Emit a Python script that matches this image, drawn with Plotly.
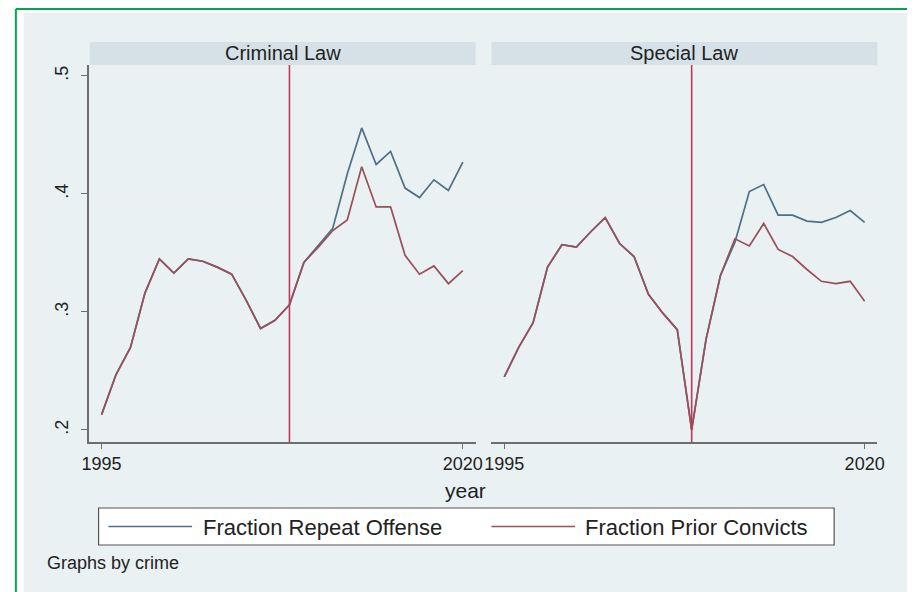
import plotly.graph_objects as go

# Yearly series by crime type
years = list(range(1995, 2021))

criminal_repeat = [0.213, 0.247, 0.270, 0.316, 0.345, 0.333, 0.345, 0.343, 0.338, 0.332,
                   0.310, 0.286, 0.293, 0.306, 0.342, 0.357, 0.371, 0.417, 0.456, 0.425,
                   0.436, 0.405, 0.397, 0.412, 0.403, 0.427]
criminal_prior = [0.213, 0.247, 0.270, 0.316, 0.345, 0.333, 0.345, 0.343, 0.338, 0.332,
                  0.310, 0.286, 0.293, 0.306, 0.342, 0.355, 0.369, 0.378, 0.423, 0.389,
                  0.389, 0.348, 0.332, 0.339, 0.324, 0.335]

special_repeat = [0.245, 0.270, 0.291, 0.338, 0.357, 0.355, 0.368, 0.380, 0.358, 0.347,
                  0.315, 0.299, 0.285, 0.200, 0.277, 0.331, 0.359, 0.402, 0.408, 0.382,
                  0.382, 0.377, 0.376, 0.380, 0.386, 0.376]
special_prior = [0.245, 0.270, 0.291, 0.338, 0.357, 0.355, 0.368, 0.380, 0.358, 0.347,
                 0.315, 0.299, 0.285, 0.200, 0.277, 0.331, 0.362, 0.356, 0.375, 0.353,
                 0.347, 0.336, 0.326, 0.324, 0.326, 0.309]

panel_titles = ["Criminal Law", "Special Law"]
series_names = ["Fraction Repeat Offense", "Fraction Prior Convicts"]
reform_year = 2008

y_tickvals = [0.2, 0.3, 0.4, 0.5]
y_ticktext = [".2", ".3", ".4", ".5"]
x_tickvals = [1995, 2020]
x_ticktext = ["1995", "2020"]

W, H = 914, 592
FONT = "Liberation Sans, Arial, sans-serif"
BLUE = "#4f6f88"
RED = "#9a4f59"
VLINE = "#c7345a"
AXIS = "#6e6e6e"
BG = "#e9f1f3"
STRIP = "#d6e1e7"
TXT = "#222222"


def px(x):
    return x / W


def py(y):
    return 1 - y / H


fig = go.Figure()

panels = [
    ("x", "y", criminal_repeat, criminal_prior),
    ("x2", "y2", special_repeat, special_prior),
]
for xa, ya, rep, pri in panels:
    fig.add_trace(go.Scatter(x=years, y=rep, mode="lines", name=series_names[0],
                             line=dict(color=BLUE, width=1.7), xaxis=xa, yaxis=ya,
                             showlegend=False))
    fig.add_trace(go.Scatter(x=years, y=pri, mode="lines", name=series_names[1],
                             line=dict(color=RED, width=1.7), xaxis=xa, yaxis=ya,
                             showlegend=False))
    fig.add_shape(type="line", xref=xa, yref=f"{ya} domain", x0=reform_year, x1=reform_year,
                  y0=0, y1=1, line=dict(color=VLINE, width=1.6))

x_range = [1994.11, 2020.89]
y_range = [0.1898, 0.5093]
y_domain = [py(442), py(65)]

common_x = dict(range=x_range, showline=True, linecolor=AXIS, linewidth=1.5,
                ticks="outside", ticklen=5, tickcolor=AXIS, tickwidth=1.2,
                tickvals=x_tickvals, ticktext=x_ticktext, showgrid=False, zeroline=False,
                tickfont=dict(family=FONT, size=18, color=TXT))

fig.update_layout(
    width=W, height=H,
    margin=dict(l=0, r=0, t=0, b=0),
    paper_bgcolor="white",
    plot_bgcolor="white",
    showlegend=False,
    xaxis=dict(domain=[px(83), px(476)], anchor="y", **common_x),
    xaxis2=dict(domain=[px(492), px(884)], anchor="y2", **common_x),
    yaxis=dict(domain=y_domain, anchor="x", range=y_range, showline=True, linecolor=AXIS,
               linewidth=1.5, ticks="outside", ticklen=6, tickcolor=AXIS, tickwidth=1.2,
               tickvals=y_tickvals, ticktext=y_ticktext, tickangle=-90,
               ticklabelstandoff=6,
               tickfont=dict(family=FONT, size=18, color=TXT),
               showgrid=True, gridcolor="#f0f1ef", gridwidth=1, zeroline=False),
    yaxis2=dict(domain=y_domain, anchor="x2", range=y_range, showline=False,
                showticklabels=False, ticks="", tickvals=y_tickvals,
                showgrid=True, gridcolor="#f0f1ef", gridwidth=1, zeroline=False),
)

shapes = [
    # graph region background and frame
    dict(type="rect", xref="paper", yref="paper", x0=px(17), x1=1, y0=0, y1=py(13),
         fillcolor=BG, line=dict(width=0), layer="below"),
    dict(type="line", xref="paper", yref="paper", x0=px(9), x1=1, y0=py(9), y1=py(9),
         line=dict(color="#00a650", width=2)),
    dict(type="line", xref="paper", yref="paper", x0=px(9), x1=px(9), y0=0, y1=py(9),
         line=dict(color="#00a650", width=2)),
    # panel strips
    dict(type="rect", xref="paper", yref="paper", x0=px(84), x1=px(476), y0=py(65), y1=py(42),
         fillcolor=STRIP, line=dict(width=0)),
    dict(type="rect", xref="paper", yref="paper", x0=px(492), x1=px(884), y0=py(65), y1=py(42),
         fillcolor=STRIP, line=dict(width=0)),
    # legend box and keys
    dict(type="rect", xref="paper", yref="paper", x0=px(93), x1=px(840), y0=py(545), y1=py(508),
         fillcolor="white", line=dict(color="#555555", width=1.2)),
    dict(type="line", xref="paper", yref="paper", x0=px(103), x1=px(188), y0=py(526.5),
         y1=py(526.5), line=dict(color=BLUE, width=1.7)),
    dict(type="line", xref="paper", yref="paper", x0=px(492), x1=px(577), y0=py(526.5),
         y1=py(526.5), line=dict(color=RED, width=1.7)),
]
for s in shapes:
    fig.add_shape(**s)

annotations = [
    dict(text=panel_titles[0], x=px(280), y=py(53.5), xanchor="center", yanchor="middle",
         font=dict(family=FONT, size=20, color=TXT)),
    dict(text=panel_titles[1], x=px(688), y=py(53.5), xanchor="center", yanchor="middle",
         font=dict(family=FONT, size=20, color=TXT)),
    dict(text="year", x=px(466), y=py(490), xanchor="center", yanchor="middle",
         font=dict(family=FONT, size=21, color=TXT)),
    dict(text=series_names[0], x=px(197), y=py(527), xanchor="left", yanchor="middle",
         font=dict(family=FONT, size=22, color=TXT)),
    dict(text=series_names[1], x=px(585), y=py(527), xanchor="left", yanchor="middle",
         font=dict(family=FONT, size=22, color=TXT)),
    dict(text="Graphs by crime", x=px(39), y=py(563), xanchor="left", yanchor="middle",
         font=dict(family=FONT, size=18, color=TXT)),
]
for a in annotations:
    fig.add_annotation(xref="paper", yref="paper", showarrow=False, **a)

fig.write_html("out.html")
